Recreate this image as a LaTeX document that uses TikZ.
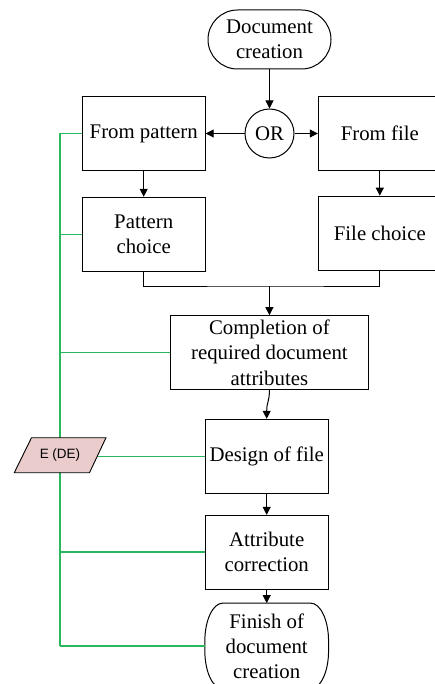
\documentclass[tikz,border=0pt]{standalone}
\usepackage{fontspec}
\setmainfont{Liberation Serif}
\newfontfamily\sansf{Liberation Sans}
\usetikzlibrary{arrows.meta,calc}
\definecolor{gline}{RGB}{40,185,95}
\definecolor{pink}{RGB}{235,204,204}
\begin{document}
\begin{tikzpicture}[x=1pt,y=-1pt,
  every node/.style={inner sep=0pt,align=center,font=\fontsize{20.8}{25}\selectfont},
  box/.style={draw,line width=1pt,minimum width=123pt,minimum height=74pt},
  arr/.style={line width=1pt,-{Triangle[length=8pt,width=8pt]}},
  conn/.style={line width=1pt},
  gconn/.style={draw=gline,line width=1.5pt}]
\clip (0,0) rectangle (435,684);
\useasboundingbox (0,0) rectangle (435,684);
% nodes
\node[draw,line width=1pt,rounded corners=29.5pt,minimum width=123pt,minimum height=59pt] (start) at (269.5,39.5) {Document\\creation};
\node[draw,circle,line width=1pt,minimum size=49pt] (or) at (269.5,133.5) {OR};
\node[box] (fp) at (143.7,133.5) {From pattern};
\node[box] (ff) at (379.8,133.5) {From file};
\node[box] (pc) at (143.7,234.3) {Pattern\\choice};
\node[box] (fc) at (379.8,233.2) {File choice};
\node[box,minimum width=197.3pt,font=\fontsize{20.8}{25.5}\selectfont] (comp) at (269.4,352.7) {Completion of\\required document\\attributes};
\node[box,minimum width=123.3pt] (design) at (266.7,456.3) {Design of file};
\node[box,minimum width=123.3pt,minimum height=73.7pt] (attr) at (266.7,552.2) {Attribute\\correction};
\node[minimum width=123.3pt,minimum height=85.4pt] (fin) at (266.7,646) {Finish of\\document\\creation};
\draw[line width=1pt]
  ($(fin.north west)+(18,0)$) -- ($(fin.north east)+(-18,0)$)
  .. controls ($(fin.north east)+(-8,0)$) and ($(fin.north east)+(0,17)$) .. ($(fin.north east)+(0,38)$)
  -- ($(fin.south east)+(0,-38)$)
  .. controls ($(fin.south east)+(0,-17)$) and ($(fin.south east)+(-8,0)$) .. ($(fin.south east)+(-18,0)$)
  -- ($(fin.south west)+(18,0)$)
  .. controls ($(fin.south west)+(8,0)$) and ($(fin.south west)+(0,-17)$) .. ($(fin.south west)+(0,-38)$)
  -- ($(fin.north west)+(0,38)$)
  .. controls ($(fin.north west)+(0,17)$) and ($(fin.north west)+(8,0)$) .. cycle;
% black connectors
\draw[arr] (start.south) -- (or.north);
\draw[arr] (or.west) -- (fp.east);
\draw[arr] (or.east) -- (ff.west);
\draw[arr] (fp.south) -- (pc.north);
\draw[arr] (ff.south) -- (fc.north);
\coordinate (m) at (269.4,286);
\draw[conn] (pc.south) |- (m) -| (fc.south);
\draw[arr] (m) -- (comp.north);
\draw[arr] (comp.south) .. controls (269.4,402) and (266.7,402) .. (design.north);
\draw[arr] (design.south) -- (attr.north);
\draw[arr] (attr.south) -- (fin.north);
% green connectors
\coordinate (gt) at (60,133.5);
\coordinate (gb) at (60,646);
\coordinate (per) at (97.5,456.3);
\draw[gconn] (gt) -- (gb);
\draw[gconn] (fp.west) -- (gt);
\draw[gconn] (fin.west) -- (gb);
\draw[gconn] (pc.west) -- (pc.west -| gt);
\draw[gconn] (comp.west) -- (comp.west -| gt);
\draw[gconn] (attr.west) -- (attr.west -| gt);
\draw[gconn] (per) -- (design.west);
% E (DE) parallelogram
\draw[fill=pink,line width=0.9pt] (31.5,437.7) -- (106,437.7) -- (89.5,472.7) -- (14.3,472.7) -- cycle;
\node[font=\sansf\fontsize{13.5}{16}\selectfont] (pe) at (60,455.5) {E (DE)};
\end{tikzpicture}
\end{document}
